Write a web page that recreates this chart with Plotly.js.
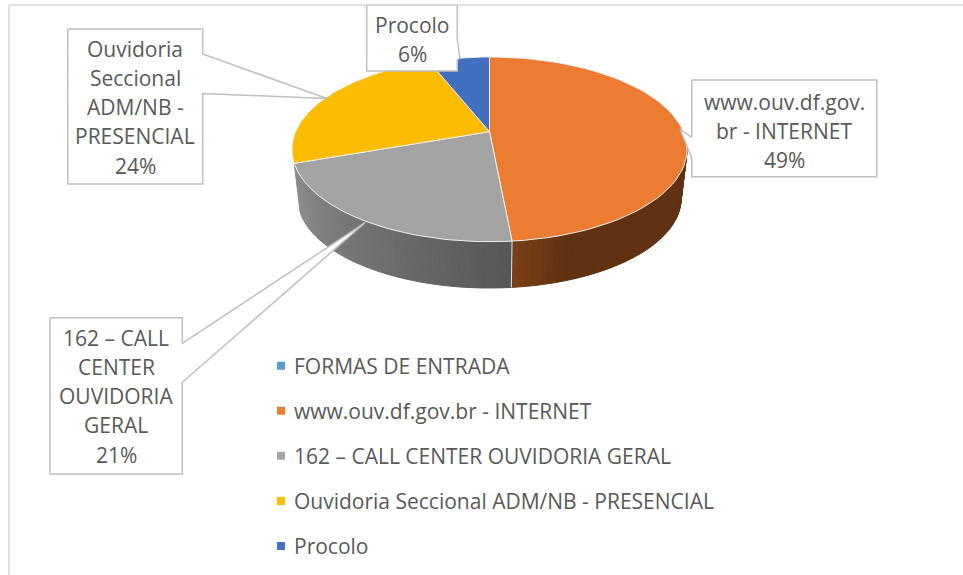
<!DOCTYPE html>
<html><head><meta charset="utf-8">
<script src="https://cdn.plot.ly/plotly-3.0.1.min.js"></script>
<style>html,body{margin:0;padding:0;background:#fff}#c{width:963px;height:575px}</style>
</head><body><div id="c"></div>
<script>
const categories = ["www.ouv.df.gov.br - INTERNET","162 – CALL CENTER OUVIDORIA GERAL","Ouvidoria Seccional ADM/NB - PRESENCIAL","Procolo"];
const shares = [48.5, 21.1, 24.4, 6.0];
const legendNames = ["FORMAS DE ENTRADA","www.ouv.df.gov.br - INTERNET","162 – CALL CENTER OUVIDORIA GERAL","Ouvidoria Seccional ADM/NB - PRESENCIAL","Procolo"];
const legendColors = ["#5b9bd5","#ed7d31","#a5a5a5","#ffc000","#4472c4"];
const topColors = ["#eb7c32","#a3a3a3","#fcbd00","#4170c0"];
const labelLines = [["www.ouv.df.gov.","br - INTERNET","49%"],["162 – CALL","CENTER","OUVIDORIA","GERAL","21%"],["Ouvidoria","Seccional","ADM/NB -","PRESENCIAL","24%"],["Procolo","6%"]];
const labelX = [784, 116, 135, 412];
const labelY0 = [101.5, 337.5, 48.5, 24.5];
const calloutPaths = [
  [[691.7,80],[876.7,80],[876.7,176.7],[691.7,176.7],[691.7,158],[680,129],[691.7,137.3],[691.7,80]],
  [[50,317.7],[182.3,317.7],[182.3,343.3],[365,222.7],[182.3,382.3],[182.3,474],[50,474],[50,317.7]],
  [[67.7,29],[202.7,29],[202.7,54],[327,98.5],[202.7,93.5],[202.7,184],[67.7,184],[67.7,29]],
  [[366.7,5],[457.3,5],[457.3,40],[460,58],[457.3,60],[457.3,71],[366.7,71],[366.7,5]]
];
// pie projection
const cx=489.5, cy=131.7, A=193.9, B=89, K=0.191, drop=49.6, shrink=0.97;
function pt(deg,s,d){const t=deg*Math.PI/180,w=1+K*Math.cos(t);return [cx+s*A*Math.sin(t)/w, cy+d-s*B*Math.cos(t)/w];}
function mix(a,b,f){const p=h=>[1,3,5].map(i=>parseInt(h.substr(i,2),16));const x=p(a),y=p(b);return 'rgb('+x.map((v,i)=>Math.round(v+(y[i]-v)*f)).join(',')+')';}
const traces=[];
const boundaries=[0];shares.forEach(v=>boundaries.push(boundaries[boundaries.length-1]+v*3.6));
// walls
function wall(a0,a1,colorAt){
  const n=Math.ceil((a1-a0)/1.5);
  for(let i=0;i<n;i++){
    const a=a0+(a1-a0)*i/n,b=a0+(a1-a0)*(i+1)/n;
    const p=[pt(a,1,0),pt(b,1,0),pt(b,shrink,drop),pt(a,shrink,drop),pt(a,1,0)];
    const c=colorAt((i+.5)/n);
    traces.push({x:p.map(q=>q[0]),y:p.map(q=>q[1]),mode:'lines',fill:'toself',fillcolor:c,line:{color:c,width:1},showlegend:false,hoverinfo:'skip'});
  }
}
wall(101,boundaries[1],f=>f>0.82?mix('#613212','#7a4016',(f-.82)/.18):'#613212');
wall(boundaries[1],boundaries[2],f=>mix('#565656','#8e8e8e',f));
// seam on wall
{const a=pt(boundaries[1],1,0),b=pt(boundaries[1],shrink,drop);
 traces.push({x:[a[0],b[0]],y:[a[1],b[1]],mode:'lines',line:{color:'#e4e4e4',width:1},showlegend:false,hoverinfo:'skip'});}
// top slices
shares.forEach((v,i)=>{
  const a0=boundaries[i],a1=boundaries[i+1],xs=[cx],ys=[cy];
  for(let a=a0;a<=a1+1e-6;a+=(a1-a0)/60){const p=pt(a,1,0);xs.push(p[0]);ys.push(p[1]);}
  xs.push(cx);ys.push(cy);
  traces.push({x:xs,y:ys,mode:'lines',fill:'toself',fillcolor:topColors[i],line:{color:'#eeeeee',width:1},name:categories[i],showlegend:false,hovertemplate:categories[i]+': '+v+'%<extra></extra>'});
});
// callouts
calloutPaths.forEach(p=>traces.push({x:p.map(q=>q[0]),y:p.map(q=>q[1]),mode:'lines',fill:'toself',fillcolor:'#ffffff',line:{color:'#bfbfbf',width:1.5},showlegend:false,hoverinfo:'skip'}));
// legend
legendNames.forEach((n,i)=>traces.push({x:[null],y:[null],mode:'markers',name:n,legendgroup:'g'+i,marker:{symbol:'square',size:8,color:legendColors[i]}}));
const annotations=[];
labelLines.forEach((ls,i)=>ls.forEach((t,j)=>annotations.push({x:labelX[i],y:labelY0[i]+j*29.3,text:t,showarrow:false,xref:'x',yref:'y',xanchor:'center',yanchor:'middle',font:{family:'Open Sans, sans-serif',size:21,color:'#595959'}})));
const shapes=[
 {type:'line',xref:'x',yref:'y',x0:9,x1:9,y0:5,y1:575,line:{color:'#d9d9d9',width:1.5}},
 {type:'line',xref:'x',yref:'y',x0:9,x1:963,y0:5,y1:5,line:{color:'#d9d9d9',width:1.5}}
];
const layout={width:963,height:575,margin:{l:0,r:0,t:0,b:0},paper_bgcolor:'#fff',plot_bgcolor:'#fff',
 xaxis:{range:[0,963],visible:false,fixedrange:true},yaxis:{range:[575,0],visible:false,fixedrange:true},
 shapes,annotations,hovermode:'closest',
 legend:{x:254/963,xanchor:'left',y:1-345.5/575,yanchor:'top',tracegroupgap:14.8,font:{family:'Open Sans, sans-serif',size:21,color:'#595959'},bgcolor:'rgba(0,0,0,0)'}};
Plotly.newPlot('c',traces,layout,{displayModeBar:false,staticPlot:false}).then(()=>{
  document.querySelectorAll('#c .legend .legendsymbols').forEach(g=>g.setAttribute('transform','translate(7,0)'));
});
</script></body></html>
